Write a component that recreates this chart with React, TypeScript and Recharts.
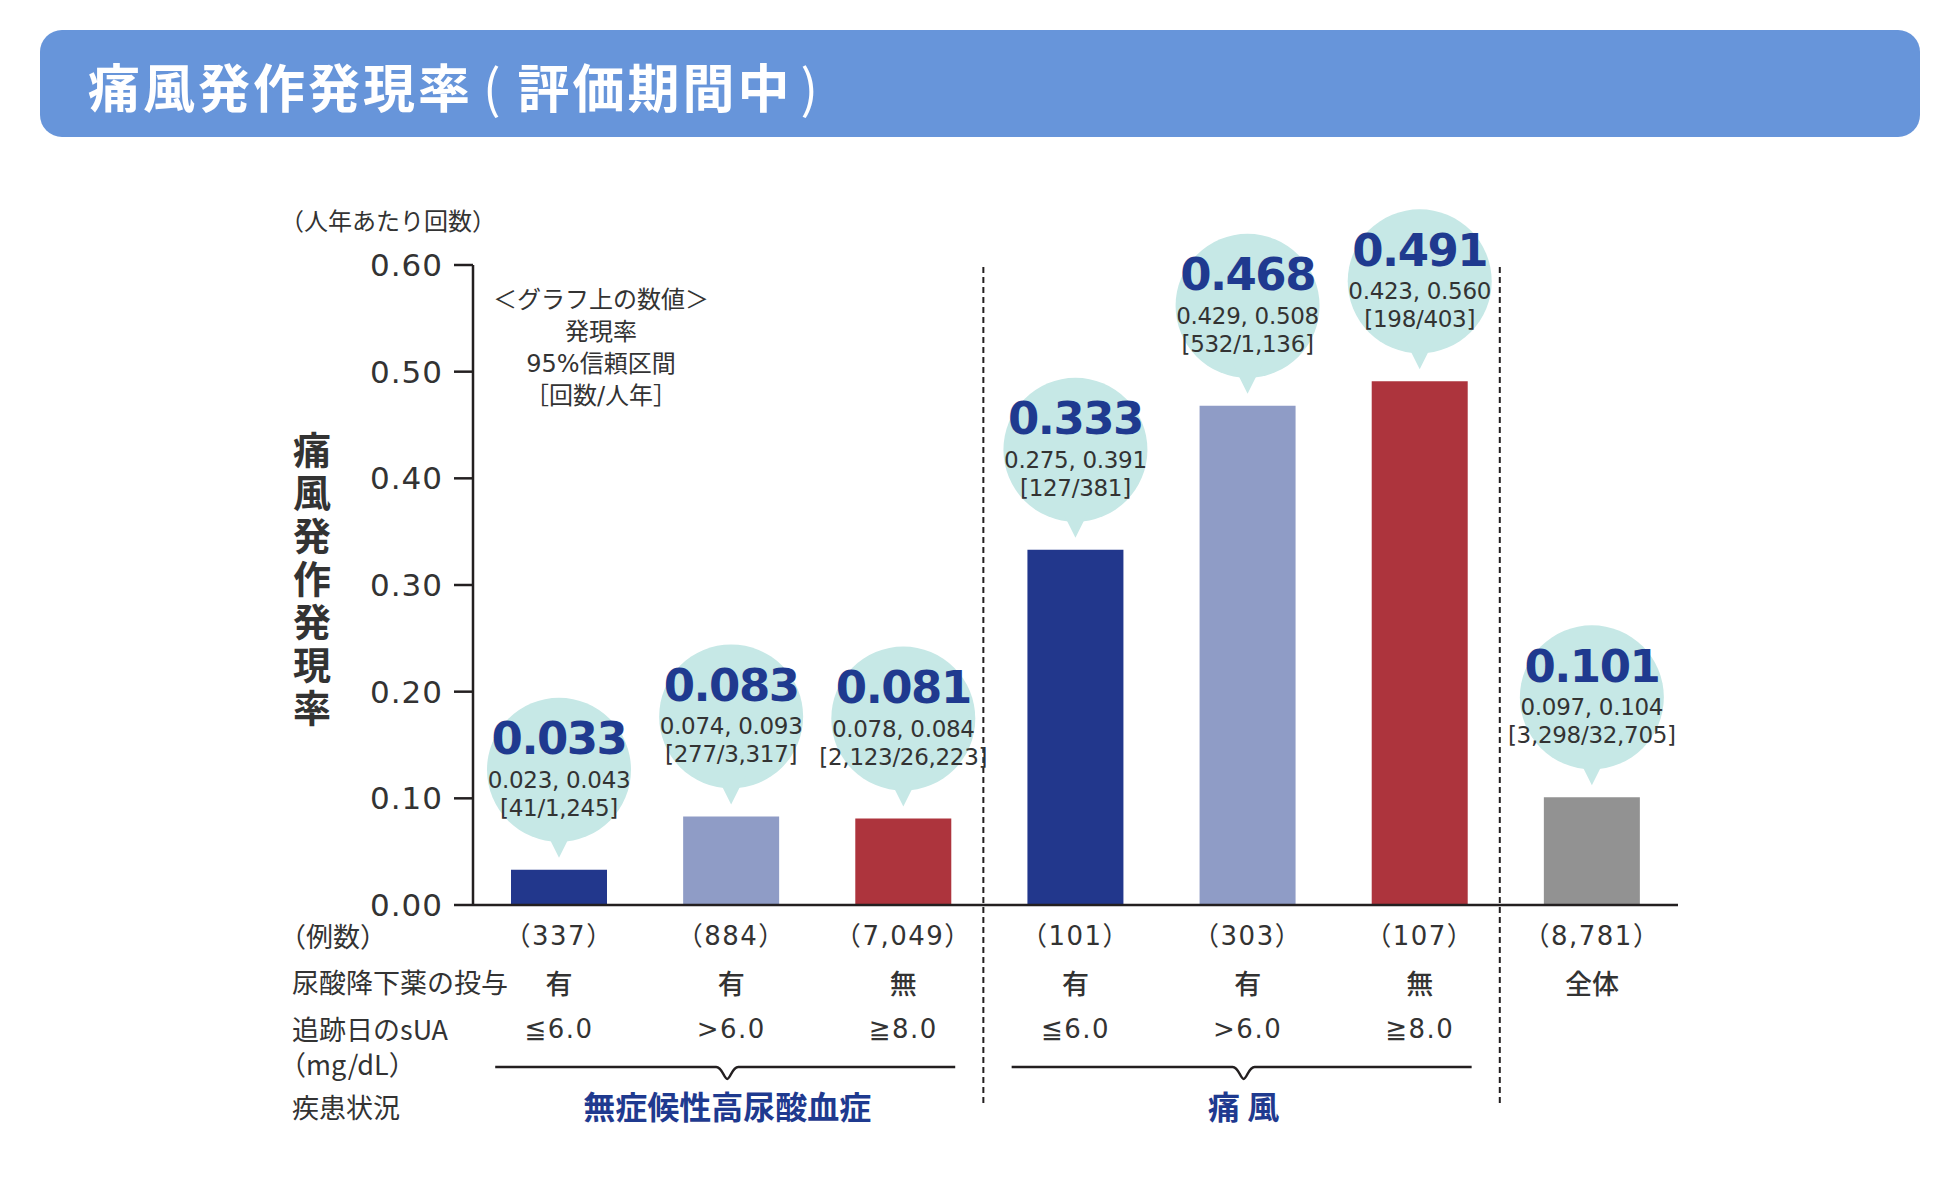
import React from 'react'
import { BarChart, Bar, XAxis, YAxis, Cell, LabelList } from 'recharts'

const categories = ['ah_le6', 'ah_gt6', 'ah_ge8', 'g_le6', 'g_gt6', 'g_ge8', 'all']
const rates = [0.033, 0.083, 0.081, 0.333, 0.468, 0.491, 0.101]
const ciLow = [0.023, 0.074, 0.078, 0.275, 0.429, 0.423, 0.097]
const ciHigh = [0.043, 0.093, 0.084, 0.391, 0.508, 0.56, 0.104]
const eventsPerPY = ['41/1,245', '277/3,317', '2,123/26,223', '127/381', '532/1,136', '198/403', '3,298/32,705']
const counts = ['337', '884', '7,049', '101', '303', '107', '8,781']
const drugGiven = ['有', '有', '無', '有', '有', '無', '全体']
const suaLevel = ['≦6.0', '>6.0', '≧8.0', '≦6.0', '>6.0', '≧8.0', '']
const yTicks = [0, 0.1, 0.2, 0.3, 0.4, 0.5, 0.6]
const groupLabels = ['無症候性高尿酸血症', '痛 風']
const groupMid = [1, 4]
const dividerAfter = [2, 5]
const rowLabels = ['（例数）', '尿酸降下薬の投与', '追跡日のsUA', '（mg/dL）', '疾患状況']
const noteLines = ['＜グラフ上の数値＞', '発現率', '95%信頼区間', '［回数/人年］']

const barColors = ['#22378c', '#8f9cc6', '#ad343d', '#22378c', '#8f9cc6', '#ad343d', '#929292']
const BUBBLE = '#c6e8e6'
const NAVY = '#1f3a8f'
const INK = '#333333'
const LINE = '#231f20'
const NUM = '"DejaVu Sans", "Noto Sans CJK JP", sans-serif'
const JP = '"Noto Sans CJK JP", sans-serif'

const data = categories.map((key, i) => ({ key, rate: rates[i] }))

function Bubble(props: any) {
  const x = Number(props.x)
  const y = Number(props.y)
  const w = Number(props.width)
  const i = props.index
  const cx = x + w / 2
  const tip = y - 12
  const cy = tip - 88
  return (
    <g>
      <circle cx={cx} cy={cy} r={72} fill={BUBBLE} />
      <path d={`M${cx - 15},${tip - 30} L${cx + 15},${tip - 30} L${cx},${tip} Z`} fill={BUBBLE} />
      <text x={cx} y={tip - 119} textAnchor="middle" dominantBaseline="central" fontFamily={NUM} fontWeight="bold" fontSize={45} letterSpacing={-1.5} fill={NAVY}>
        {rates[i].toFixed(3)}
      </text>
      <text x={cx} y={tip - 78} textAnchor="middle" dominantBaseline="central" fontFamily={NUM} fontSize={23} letterSpacing={-0.3} fill={INK}>
        {ciLow[i].toFixed(3)}, {ciHigh[i].toFixed(3)}
      </text>
      <text x={cx} y={tip - 50} textAnchor="middle" dominantBaseline="central" fontFamily={NUM} fontSize={23} letterSpacing={-0.3} fill={INK}>
        [{eventsPerPY[i]}]
      </text>
    </g>
  )
}

function YTick(props: any) {
  const { x, y, payload } = props
  return (
    <text x={x} y={y} textAnchor="end" dominantBaseline="central" fontFamily={NUM} fontSize={31} letterSpacing={1} fill={INK}>
      {Number(payload.value).toFixed(2)}
    </text>
  )
}

function TableTick(props: any) {
  const x = Number(props.x)
  const y = Number(props.y)
  const i = props.index
  const g = groupMid.indexOf(i)
  const by = y + 162
  const bl = x - 236
  const br = x + 224
  const nx = x - 4
  return (
    <g>
      <text x={x} y={y + 31} textAnchor="middle" dominantBaseline="central" fontFamily={NUM} fontSize={26} letterSpacing={1.5} fill={INK}>
        （{counts[i]}）
      </text>
      <text x={x} y={y + 77} textAnchor="middle" dominantBaseline="central" fontFamily={JP} fontSize={27} fontWeight="500" fill={INK}>
        {drugGiven[i]}
      </text>
      {suaLevel[i] && (
        <text x={x} y={y + 124} textAnchor="middle" dominantBaseline="central" fontFamily={NUM} fontSize={26} letterSpacing={1.5} fill={INK}>
          {suaLevel[i]}
        </text>
      )}
      {dividerAfter.includes(i) && (
        <line x1={x + 80} x2={x + 80} y1={y - 638} y2={y + 202} stroke={LINE} strokeWidth={2} strokeDasharray="6 4" />
      )}
      {g >= 0 && (
        <g>
          <path
            d={`M${bl},${by} H${nx - 11} C${nx - 5},${by} ${nx - 3},${by + 12} ${nx},${by + 12} C${nx + 3},${by + 12} ${nx + 5},${by} ${nx + 11},${by} H${br}`}
            fill="none"
            stroke={LINE}
            strokeWidth={2.5}
          />
          <text x={nx} y={y + 200} textAnchor="middle" dominantBaseline="central" fontFamily={JP} fontSize={32} fontWeight="bold" fill={NAVY}>
            {groupLabels[g]}
          </text>
        </g>
      )}
    </g>
  )
}

export default function App() {
  const rowY = [935, 981, 1028, 1063, 1106]
  return (
    <div style={{ position: 'absolute', left: 0, top: 0, width: 1960, height: 1192, background: '#fff' }}>
      <div style={{ position: 'absolute', left: 40, top: 30, width: 1880, height: 107, borderRadius: 22, background: '#6795da' }} />
      <div style={{ position: 'absolute', left: 0, top: 0 }}>
        <BarChart width={1960} height={1192} data={data} margin={{ top: 265, right: 282, left: 293, bottom: 37 }}>
          <XAxis
            dataKey="key"
            interval={0}
            height={250}
            tickLine={false}
            tickSize={0}
            tickMargin={0}
            axisLine={{ stroke: LINE, strokeWidth: 2.5 }}
            tick={<TableTick />}
          />
          <YAxis
            width={180}
            domain={[0, 0.6]}
            ticks={yTicks}
            tickSize={19}
            tickMargin={11}
            axisLine={{ stroke: LINE, strokeWidth: 2.5 }}
            tickLine={{ stroke: LINE, strokeWidth: 2.5 }}
            tick={<YTick />}
          />
          <Bar dataKey="rate" barSize={96} isAnimationActive={false}>
            {data.map((_, i) => (
              <Cell key={i} fill={barColors[i]} />
            ))}
            <LabelList dataKey="rate" content={<Bubble />} />
          </Bar>
        </BarChart>
      </div>
      <svg width={1960} height={1192} style={{ position: 'absolute', left: 0, top: 0, pointerEvents: 'none' }}>
        <text x={88} y={85} dominantBaseline="central" fontFamily={JP} fontWeight="bold" fontSize={52} letterSpacing={3} fill="#fff">
          痛風発作発現率<tspan dx={10} fontWeight="normal">(</tspan><tspan dx={14}>評価期間中</tspan><tspan dx={8} fontWeight="normal">)</tspan>
        </text>
        <text x={280} y={219} dominantBaseline="central" fontFamily={JP} fontSize={24} fill={INK}>
          （人年あたり回数）
        </text>
        <text
          x={312}
          y={431}
          fontFamily={JP}
          fontWeight="bold"
          fontSize={38}
          letterSpacing={5}
          fill={INK}
          style={{ writingMode: 'vertical-rl', textOrientation: 'upright' }}
        >
          痛風発作発現率
        </text>
        {noteLines.map((t, i) => (
          <text key={i} x={601} y={300 + 32 * i} textAnchor="middle" dominantBaseline="central" fontFamily={NUM} fontSize={24} fill={INK}>
            {t}
          </text>
        ))}
        {rowLabels.map((t, i) => (
          <text key={i} x={t.startsWith('（') ? 279 : 292} y={rowY[i]} dominantBaseline="central" fontFamily={JP} fontSize={27} fill={INK}>
            {t}
          </text>
        ))}
      </svg>
    </div>
  )
}
